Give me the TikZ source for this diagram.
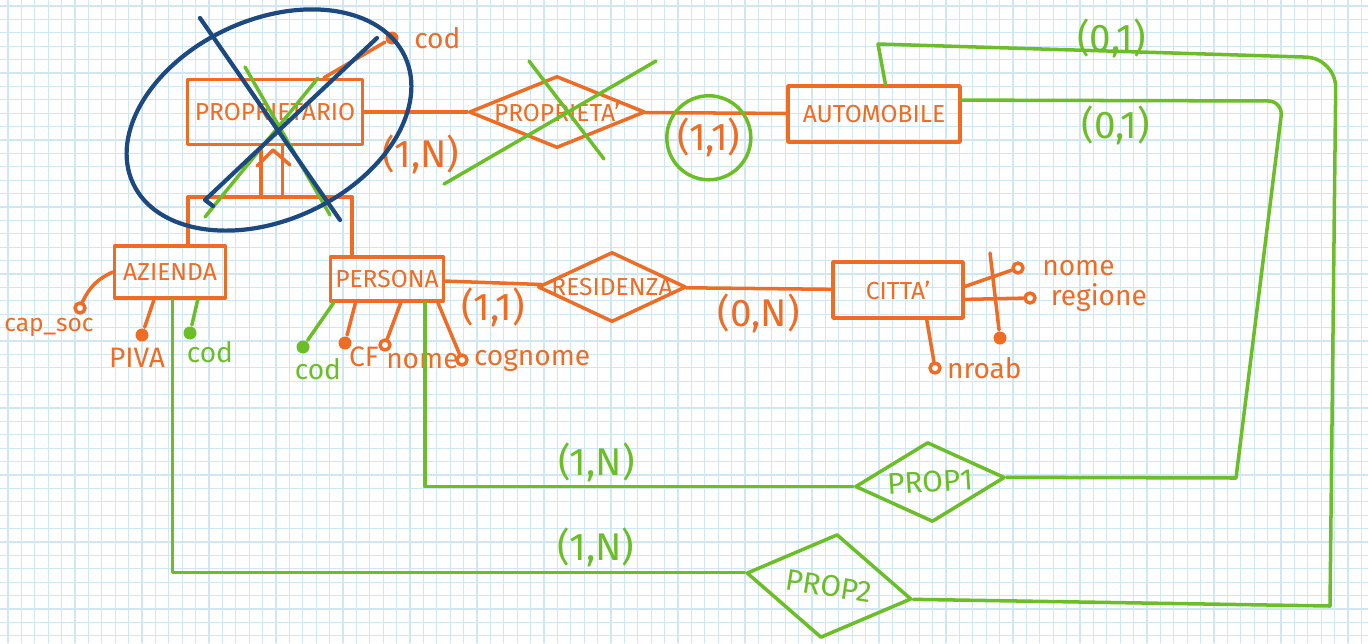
\documentclass[tikz,border=0pt]{standalone}
\usepackage{fontspec}
\setmainfont{Fira Sans}
\usepackage{tikz}
\usetikzlibrary{arrows.meta,calc,positioning,shapes.geometric}
\definecolor{penorange}{RGB}{238,108,36}
\definecolor{pengreen}{RGB}{108,190,40}
\definecolor{penblue}{RGB}{28,74,128}
\definecolor{gridblue}{RGB}{206,231,243}
\newcommand{\entfont}{\fontsize{14}{16}\selectfont}
\newcommand{\relfont}{\fontsize{14}{16}\selectfont}
\newcommand{\propfont}{\fontsize{17}{19}\selectfont}
\newcommand{\attfont}{\fontsize{16}{18}\selectfont}
\newcommand{\cardfont}{\fontsize{22}{24}\selectfont}

\begin{document}
\begin{tikzpicture}[x=0.02cm,y=-0.02cm,line width=2pt,line cap=round,line join=round,
  ent/.style={draw,rectangle,inner sep=0pt,font=\entfont},
  rel/.style={draw,diamond,inner sep=0pt,font=\relfont},
  att/.style={draw,circle,inner sep=0pt,minimum size=0.2cm,fill=white},
  keyatt/.style={circle,fill,inner sep=0pt,minimum size=0.26cm},
  attlab/.style={inner sep=1pt,font=\attfont},
  card/.style={font=\cardfont,inner sep=2pt}]
\fill[white] (0,0) rectangle (1368,643);
\useasboundingbox (0,0) rectangle (1368,643);
% squared paper
\foreach \gx in {8,21.4,...,1368}
  \draw[gridblue,line width=0.6pt] (\gx,0) -- (\gx,643);
\foreach \gy in {6,19.4,...,643}
  \draw[gridblue,line width=0.6pt] (0,\gy) -- (1368,\gy);

% entities
\node[ent,penorange,minimum width=3.5cm,minimum height=1.3cm] (Prop) at (275,112) {PROPRIETARIO};
\node[ent,penorange,minimum width=3.44cm,minimum height=1.12cm] (Auto) at (874,114) {AUTOMOBILE};
\node[ent,penorange,minimum width=2.22cm,minimum height=1.04cm] (Az) at (170,272) {AZIENDA};
\node[ent,penorange,minimum width=2.26cm,minimum height=0.88cm] (Pers) at (387,279) {PERSONA};
\node[ent,penorange,minimum width=2.6cm,minimum height=1.12cm] (Citta) at (898,290) {CITTA'};

% relationships
\node[rel,penorange,minimum width=3.52cm,minimum height=1.44cm] (Pta) at (557,112) {\makebox[0pt]{PROPRIETA'}};
\node[rel,penorange,minimum width=2.96cm,minimum height=1.4cm] (Res) at (612,287) {\makebox[0pt]{RESIDENZA}};
\node[rel,pengreen,font=\propfont,minimum width=3cm,minimum height=1.6cm,rotate=3.5] (P1) at (930,482) {\makebox[0pt]{PROP1}};
\node[rel,pengreen,font=\propfont,minimum width=3.34cm,minimum height=2.1cm,rotate=-9] (P2) at (829,586) {\makebox[0pt]{PROP2}};

\path[penorange,card]
(Prop) edge node[pos=.55,below=10pt]{(1,N)} (Pta)
(Pta) edge node[pos=.45,below] (c11) {(1,1)} (Auto)
(Pers) edge node[below]{(1,1)} (Res)
(Res) edge node[below]{(0,N)} (Citta);

% generalization
\coordinate (isaL) at (188,197);
\coordinate (isaR) at (352,197);
\draw[penorange] (isaL) -- (isaR);
\draw[penorange] (isaL) -- (isaL |- Az.north);
\draw[penorange] (isaR) -- (isaR |- Pers.north);
\draw[penorange] (Prop.248 |- isaL) -- (Prop.248);
\draw[penorange] (Prop.282 |- isaL) -- (Prop.282);
\draw[penorange] (257,166) -- (273,150) -- (290,165);

% attributes
\node[keyatt,penorange] (Pcod) at (392,38) {};
\node[attlab,penorange,right=6pt of Pcod] (PcodL) {cod};
\draw[penorange] (Prop.35) -- (Pcod);

\node[penorange,att] (Acap) at (80,308) {};
\node[attlab,penorange,font=\fontsize{14}{16}\selectfont,below=0pt of Acap,xshift=-0.62cm] (AcapL) {cap\_soc};
\draw[penorange] (Az.west) to[bend right=20] (Acap);
\node[keyatt,penorange] (Apiva) at (142,335) {};
\node[attlab,penorange,below=1pt of Apiva,xshift=-0.1cm] (ApivaL) {PIVA};
\draw[penorange] (Az.240) -- (Apiva);
\node[keyatt,pengreen] (Acod) at (190,333) {};
\node[attlab,pengreen,below=-2pt of Acod,xshift=0.4cm] (AcodL) {cod};
\draw[pengreen] (Az.315) -- (Acod);

\node[keyatt,pengreen] (Pecod) at (303,347) {};
\node[attlab,pengreen,below=0pt of Pecod,xshift=0.3cm] (PecodL) {cod};
\draw[pengreen] (Pers.204) -- (Pecod);
\node[keyatt,penorange] (Pecf) at (345,343) {};
\node[attlab,penorange,below right=-3pt and -3pt of Pecf] (PecfL) {CF};
\draw[penorange] (Pers.217) -- (Pecf);
\node[penorange,att] (Penome) at (385,345) {};
\node[attlab,penorange,below right=0pt and -4pt of Penome] (PenomeL) {nome};
\draw[penorange] (Pers.300) -- (Penome);
\node[penorange,att] (Pecog) at (462,360) {};
\node[attlab,penorange,right=1pt of Pecog] (PecogL) {cognome};
\draw[penorange] (Pers.335) -- (Pecog);

\node[penorange,att] (Cnome) at (1018,268) {};
\node[attlab,penorange,right=8pt of Cnome] (CnomeL) {nome};
\draw[penorange] (Citta.3) -- (Cnome);
\node[penorange,att] (Creg) at (1030,298) {};
\node[attlab,penorange,right=6pt of Creg] (CregL) {regione};
\draw[penorange] (Citta.-8) -- (Creg);
\coordinate (Cid) at (990,253);
\node[keyatt,penorange] (Ckey) at (1000,338) {};
\draw[penorange] (Cid) -- (Ckey);
\node[penorange,att] (Cnro) at (935,368) {};
\node[attlab,penorange,right=1pt of Cnro] (CnroL) {nroab};
\draw[penorange] (Citta.314) -- (Cnro);

% new relationships
\draw[pengreen] (Az.275) |- node[card,pos=.87,above]{(1,N)} (P2.west);
\draw[pengreen] (Pers.328) |- node[card,pos=.7,above]{(1,N)} (P1.west);
\draw[pengreen] (Auto.9) [rounded corners=.3cm] -- node[card,pos=.48,below]{(0,1)} (1283,101) [sharp corners] -- (1236,478) -- (P1.east);
\draw[pengreen] (Auto.69) -- (878,44) [rounded corners=.6cm] -- node[card,pos=.51,yshift=0.26cm]{(0,1)} (1336,58) [sharp corners] -- (1330,606) -- (P2.east);

% corrections
\draw[pengreen] (c11) circle[radius=42];
\draw[pengreen] (245,67) -- (330,215);
\draw[pengreen] (318,78) -- (205,217);
\draw[pengreen] (529,61) -- (604,159);
\draw[pengreen] (656,61) -- (444,184);
\draw[penblue,line width=2.4pt,rotate around={25:(269,120)}] (269,120) ellipse [x radius=150,y radius=100];
\draw[penblue,line width=2.4pt] (200,18) -- (340,220);
\draw[penblue,line width=2.4pt] (377,38) -- (205,200) -- (213,206);
\end{tikzpicture}
\end{document}
